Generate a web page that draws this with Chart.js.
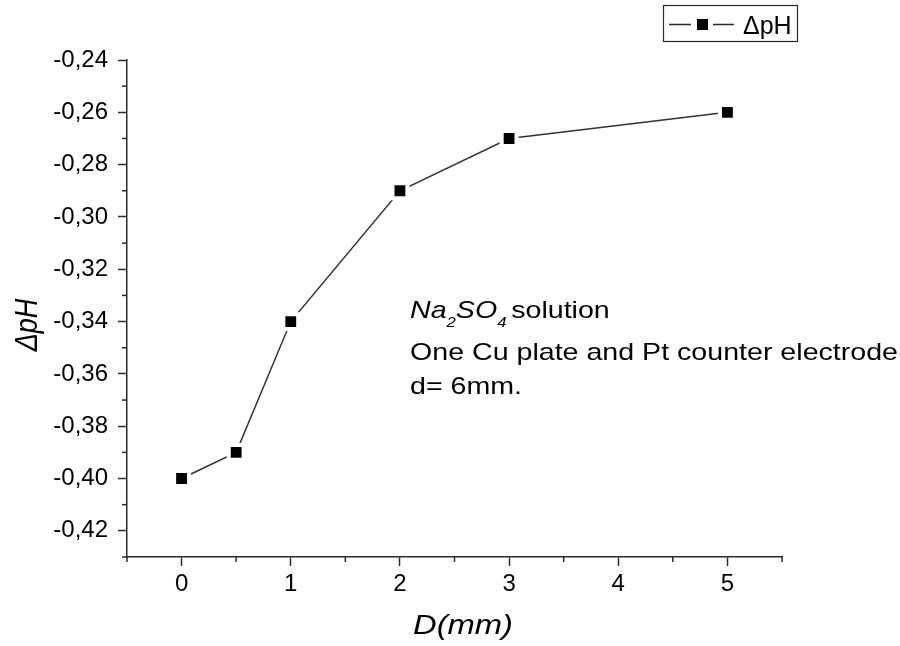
<!DOCTYPE html>
<html>
<head>
<meta charset="utf-8">
<script src="https://cdn.jsdelivr.net/npm/chart.js@4.4.1/dist/chart.umd.min.js"></script>
<style>
  html, body { margin: 0; padding: 0; background: #fff; }
  #wrap { width: 900px; height: 646px; }
</style>
</head>
<body>
<div id="wrap"><canvas id="ph" width="900" height="646"></canvas></div>
<script>
const distances = [0, 0.5, 1, 2, 3, 5];
const deltaPH = [-0.40, -0.39, -0.34, -0.29, -0.27, -0.26];
const seriesLabel = 'ΔpH';
const xTitle = 'D(mm)';
const yTitle = 'ΔpH';
const noteLines = ['solution', 'One Cu plate and Pt counter electrode', 'd= 6mm.'];

const FONT = 'Arial, "Liberation Sans", sans-serif';
const INK = '#2a2a2a';
const STRETCH = 1.17; // the source image is a bit wide, text looks stretched

// minor tick marks, axis titles, legend and the note text
const extras = {
    id: 'extras',
    afterDraw(chart) {
        const ctx = chart.ctx;
        const x = chart.scales.x, y = chart.scales.y;
        ctx.save();
        ctx.strokeStyle = INK;
        ctx.lineWidth = 1.5;
        for (let i = -43; i <= -24; i++) {
            if (i % 2 === 0) continue;
            const py = y.getPixelForValue(i / 100);
            ctx.beginPath(); ctx.moveTo(y.right - 5, py); ctx.lineTo(y.right, py); ctx.stroke();
        }
        for (let i = -1; i <= 11; i += 2) {
            const px = x.getPixelForValue(i / 2);
            ctx.beginPath(); ctx.moveTo(px, x.top); ctx.lineTo(px, x.top + 5); ctx.stroke();
        }

        ctx.fillStyle = '#000';
        ctx.textBaseline = 'alphabetic';

        // x title
        ctx.save();
        ctx.font = 'italic 28px ' + FONT;
        ctx.translate(463, 634);
        ctx.scale(STRETCH, 1);
        ctx.textAlign = 'center';
        ctx.fillText(xTitle, 0, 0);
        ctx.restore();

        // y title
        ctx.save();
        ctx.font = 'italic 27px ' + FONT;
        ctx.translate(37, 325);
        ctx.rotate(-Math.PI / 2);
        ctx.scale(1, STRETCH);
        ctx.textAlign = 'center';
        ctx.fillText(yTitle, 0, 0);
        ctx.restore();

        // legend
        ctx.lineWidth = 1.2;
        ctx.strokeRect(663.5, 5.5, 134, 36);
        ctx.lineWidth = 1.5;
        ctx.beginPath();
        ctx.moveTo(669, 24.5); ctx.lineTo(691, 24.5);
        ctx.moveTo(713, 24.5); ctx.lineTo(734, 24.5);
        ctx.stroke();
        ctx.fillRect(697, 19, 11, 11);
        ctx.font = '25px ' + FONT;
        ctx.textAlign = 'left';
        ctx.fillText(seriesLabel, 743, 34);

        // note
        ctx.save();
        ctx.translate(410, 0);
        ctx.font = '24px ' + FONT;
        const k = 488 / ctx.measureText(noteLines[1]).width;
        ctx.scale(k, 1);
        let tx = 0;
        ctx.font = 'italic 24px ' + FONT;
        ctx.fillText('Na', tx, 318); tx += ctx.measureText('Na').width;
        ctx.font = 'italic 14px ' + FONT;
        ctx.fillText('2', tx, 327); tx += ctx.measureText('2').width;
        ctx.font = 'italic 24px ' + FONT;
        ctx.fillText('SO', tx, 318); tx += ctx.measureText('SO').width;
        ctx.font = 'italic 14px ' + FONT;
        ctx.fillText('4', tx, 327); tx += ctx.measureText('4').width + 4;
        ctx.font = '24px ' + FONT;
        ctx.fillText(noteLines[0], tx, 318);
        ctx.fillText(noteLines[1], 0, 360);
        ctx.fillText(noteLines[2], 0, 394);
        ctx.restore();

        ctx.restore();
    }
};

new Chart('ph', {
    type: 'line',
    data: {
        datasets: [{
            label: seriesLabel,
            data: distances.map((d, i) => ({ x: d, y: deltaPH[i] })),
            borderColor: '#333',
            borderWidth: 1.5,
            backgroundColor: '#000',
            pointStyle: 'rect',
            pointRadius: 10.5,
            pointBorderWidth: 4,
            pointBorderColor: '#fff',
            pointHoverRadius: 10.5,
            tension: 0
        }]
    },
    options: {
        responsive: false,
        animation: false,
        layout: { padding: { top: 60, right: 118, left: 0, bottom: 0 } },
        plugins: { legend: { display: false }, tooltip: { enabled: false } },
        scales: {
            x: {
                type: 'linear',
                min: -0.5, max: 5.5,
                afterFit: s => { s.height = 89; },
                border: { display: true, color: INK, width: 1.5 },
                grid: {
                    drawOnChartArea: false,
                    tickLength: 9,
                    tickWidth: 1.5,
                    tickColor: c => Number.isInteger(c.tick.value) ? INK : 'rgba(0,0,0,0)'
                },
                ticks: {
                    stepSize: 0.5,
                    autoSkip: false,
                    maxRotation: 0,
                    padding: 4,
                    color: '#000',
                    font: { family: FONT, size: 24 },
                    callback: v => Number.isInteger(v) ? String(v) : ''
                }
            },
            y: {
                min: -0.43, max: -0.24,
                afterFit: s => { s.width = 127; },
                border: { display: true, color: INK, width: 1.5 },
                grid: {
                    drawOnChartArea: false,
                    tickLength: 9,
                    tickWidth: 1.5,
                    tickColor: c => Math.round(c.tick.value * 100) % 2 === 0 ? INK : 'rgba(0,0,0,0)'
                },
                ticks: {
                    stepSize: 0.01,
                    autoSkip: false,
                    padding: 10,
                    color: '#000',
                    font: { family: FONT, size: 24 },
                    callback: v => Math.round(v * 100) % 2 === 0 ? v.toFixed(2).replace('.', ',') : ''
                }
            }
        }
    },
    plugins: [extras]
});
</script>
</body>
</html>
